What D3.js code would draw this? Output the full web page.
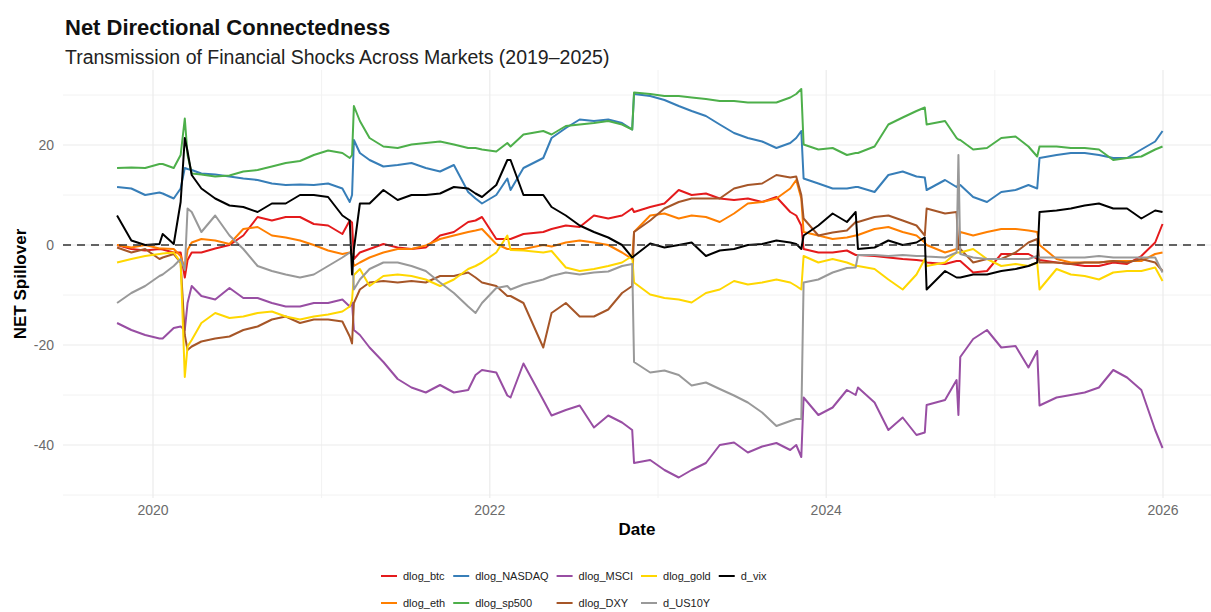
<!DOCTYPE html>
<html>
<head>
<meta charset="utf-8">
<script src="https://cdnjs.cloudflare.com/ajax/libs/d3/7.8.5/d3.min.js"></script>
<style>
  body { margin: 0; background: #fff; }
  svg { font-family: "Liberation Sans", Arial, sans-serif; }
</style>
</head>
<body>
<svg id="chart" width="1211" height="612"></svg>
<script>
// sample dates (monthly, plus extra points around the big jumps), one row per year
var dates = [
  "2019-10-15","2019-11-15","2019-12-15","2020-01-15","2020-01-22","2020-02-15","2020-03-01","2020-03-10","2020-03-16","2020-03-25","2020-04-15","2020-05-15","2020-06-15","2020-07-15","2020-08-15","2020-09-15","2020-10-15","2020-11-15","2020-12-15",
  "2021-01-15","2021-02-15","2021-03-03","2021-03-08","2021-03-12","2021-03-25","2021-04-15","2021-05-15","2021-06-15","2021-07-15","2021-08-15","2021-09-15","2021-10-15","2021-11-15","2021-12-01","2021-12-15",
  "2022-01-15","2022-02-08","2022-02-15","2022-03-15","2022-04-27","2022-05-15","2022-06-15","2022-07-15","2022-08-15","2022-09-15","2022-10-15","2022-11-06","2022-11-10","2022-12-15",
  "2023-01-15","2023-02-15","2023-03-15","2023-04-15","2023-05-15","2023-06-15","2023-07-15","2023-08-15","2023-09-15","2023-10-15","2023-10-28","2023-11-08","2023-11-13","2023-12-15",
  "2024-01-15","2024-02-15","2024-03-05","2024-03-10","2024-04-15","2024-05-15","2024-06-15","2024-07-15","2024-08-02","2024-08-06","2024-09-15","2024-10-10","2024-10-14","2024-10-18","2024-11-15","2024-12-15",
  "2025-01-15","2025-02-15","2025-03-15","2025-04-03","2025-04-08","2025-05-15","2025-06-15","2025-07-15","2025-08-15","2025-09-15","2025-10-15","2025-11-15","2025-12-15","2025-12-31"
];

var dlog_btc = [
  0,-0.8,-1.1,-0.8,-0.9,-1.5,-1.5,-6.5,-3,-1.5,-1.5,-0.7,0,1.9,5.6,4.9,5.6,5.6,4.2,
  3.9,2.2,4.9,4.5,-2.8,-1.5,-0.8,0.2,-0.5,-0.8,-0.5,1.9,2.6,4.6,4.9,5.6,
  1.2,1.2,1.2,2.2,2.6,3.2,3.9,3.6,5.9,5.3,5.9,7.3,6.6,7.6,
  8.3,11,10,10.3,9.3,9,9.3,8.6,9.6,6.6,5.9,3.9,-0.8,-1.5,
  -1.5,-1.1,-2,-2,-2.2,-2.5,-2.8,-3,-3.2,-3.5,-3.8,-3.2,-3.2,-3.2,-5.5,-5.2,
  -1.8,-1.8,-1.8,-2.8,-3,-3.5,-3.8,-4.2,-4.2,-3.5,-3.8,-2.2,0.5,4.2];

var dlog_eth = [
  0,-0.5,0,-0.7,-0.7,-0.8,-2.2,-4.8,-1,0.5,1.2,0.9,0.2,3.2,3.6,1.9,1.5,0.9,0,
  -1.1,-1.8,-1.5,-1.8,-4.2,-3.5,-2.5,-1.5,-0.8,-0.8,-0.1,1.2,1.9,2.6,2.9,3.2,
  0.2,-0.8,-0.8,-0.8,0,-0.3,0.5,0.9,0.5,0,-1.5,-2.8,2.6,5.9,
  6.3,5.3,5.9,5.6,4.6,6.3,8.3,8.6,9.3,11.3,13,9.3,2.6,1.9,
  1.2,1.5,1.9,2,3.2,3.6,2.6,1.9,0.5,0,-1.5,-0.8,-0.8,2.6,1.9,2.6,
  3.2,3.2,2.9,2.6,0,-2.8,-3.5,-3.5,-3.5,-3.2,-3.2,-3.2,-1.8,-1.5];

var dlog_NASDAQ = [
  11.6,11.3,10,10.5,10.3,9.3,11.3,15.4,15.2,15,14.3,14.1,13.7,13.3,13,12.3,12,12.1,12,
  12.3,11.3,8.6,10,21,18.4,17,15.7,16,16.4,15.4,14.7,16,10.6,9.3,8.3,
  10,13.3,11,15.4,17.4,21.4,23.4,25.1,24.8,25.1,24.4,23.1,30.2,29.8,
  29,27.8,26.8,25.8,24.1,22.4,21.4,20.7,19.4,20.4,21.4,22.8,13.3,12.3,
  11.3,11.3,11.6,11.6,10.6,14,14.7,13.7,13.5,11,13,11.6,12,12,9.6,8.6,
  10.6,11,12,11.3,17.4,18,18.4,18.4,18,17.4,17.4,19.1,20.7,22.8];

var dlog_sp500 = [
  15.4,15.5,15.4,16.2,16.2,15.4,18,25.3,18,14.3,14.1,13.7,13.9,14.7,15,15.7,16.4,16.8,18,
  18.9,18.4,17.4,18,27.8,24.8,21.4,19.7,19.4,20.1,20.4,20.7,20.1,19.4,19.4,19.1,
  18.7,20.4,19.7,22.1,22.8,22.1,23.8,24.1,24.4,24.8,24.1,23.1,30.5,30.2,
  29.8,29.8,29.5,29.2,28.8,28.8,28.5,28.5,28.5,29.5,30.2,31.2,20.1,19.1,
  19.4,18,18.4,18.4,19.7,24.1,25.5,26.8,27.5,24.1,24.8,21.4,21.1,21,19.1,19.4,
  21.4,21.7,19.7,17.7,19.7,19.7,19.4,19.4,19.1,17,17.4,17.7,19.1,19.7];

var dlog_MSCI = [
  -15.6,-17,-18,-18.7,-18.7,-16.6,-16.3,-17,-11.6,-8.2,-10.2,-10.9,-8.6,-10.6,-10.6,-11.6,-12.3,-12.3,-11.6,
  -11.6,-10.9,-12.3,-11.5,-17,-18,-20.5,-23.4,-26.8,-28.5,-29.5,-28,-29.5,-29,-26,-25,
  -25.5,-30.1,-30.5,-23.7,-31,-34.1,-33,-32.1,-36.5,-34.1,-35.5,-37,-43.6,-43,
  -45,-46.5,-45,-43.6,-40,-39.5,-41.5,-40.3,-39.6,-41,-40,-42.4,-30.5,-34,
  -32.5,-29,-30,-28.5,-31.5,-37,-34.5,-38,-37.5,-32,-31,-27,-34,-22.4,-18.8,-17,
  -20.5,-20.2,-24.5,-21.2,-32.1,-30.5,-30,-29.5,-28.5,-25,-26.5,-29,-37,-40.6];

var dlog_DXY = [
  -0.5,-1.5,-0.8,-2.8,-2.5,-1.8,-3.5,-18,-21,-20.3,-19.3,-18.7,-18.3,-17,-16.3,-14.9,-14.3,-15.6,-14.9,
  -14.9,-15.3,-18.3,-19.7,-11.6,-8.9,-7.5,-7.2,-7.5,-7.2,-7.5,-6.2,-6.2,-5.5,-6.5,-7.5,
  -8.2,-10.2,-10.2,-11.6,-20.5,-13.6,-11.6,-14.3,-14.3,-12.9,-9.6,-8.2,2.6,4.9,
  7.3,8.6,9.3,9.3,9.3,11.3,12,12.3,14,13.5,13.7,10,5.3,1.9,
  2.5,2.9,4.6,4.6,5.6,5.9,4.9,3.9,1.9,7.3,6.3,6.6,-0.8,-0.8,-3.5,-2.8,
  -2.8,-1.5,0.5,1.2,-3.5,-3.5,-3.8,-3.5,-3.5,-3.2,-3.5,-2.8,-3.5,-5.2];

var dlog_gold = [
  -3.5,-2.8,-2.2,-1.8,-1.7,-1.5,-3.5,-26.4,-20.3,-19,-15.6,-13.6,-14.6,-14.3,-13.6,-13.3,-14.3,-14.9,-14.3,
  -13.9,-13.3,-12.3,-11,-6,-4.8,-8.2,-6.2,-5.9,-6.2,-6.9,-8.2,-6.9,-4.8,-4.2,-3.5,
  -1.5,1.9,-1,-1.1,-1.5,-1.2,-4.5,-5.2,-4.8,-4.2,-3.5,-2.2,-7.5,-9.9,
  -10.6,-10.9,-11.5,-9.6,-8.9,-7.2,-7.9,-7.5,-6.9,-7.5,-8.2,-8.9,-2.2,-3.5,
  -2.8,-3.5,-4.2,-4.2,-4.8,-6.9,-8.9,-5.9,-2.8,-4.2,-3.5,-1.5,-1.5,-1.5,-0.8,-2.8,
  -4.2,-3.8,-4.2,-3.5,-8.9,-4.8,-5.9,-6.2,-6.9,-5.5,-5.2,-5.2,-4.5,-7.2];

var d_US10Y = [
  -11.6,-9.6,-8.2,-6.2,-5.9,-4.2,-2.8,-5,7.3,6.6,2.6,5.9,1.9,-0.8,-4.2,-5.2,-5.9,-6.5,-5.9,
  -4.2,-2.5,-1.5,-2,-8.9,-6.9,-4.8,-3.5,-3.5,-4.2,-5.2,-7.5,-9.6,-12.3,-13.6,-11.6,
  -8.6,-8.2,-8.9,-7.9,-6.9,-6.2,-5.5,-5.9,-5.5,-5.3,-4.2,-3.8,-23.4,-25.5,
  -25.1,-26,-28.1,-27.5,-28.8,-30.1,-31.5,-33.5,-36.2,-35.2,-34.8,-34.8,-7.5,-6.9,
  -5.5,-4.6,-4.5,-2,-2,-2.2,-2,-2.2,-2.2,-2.3,-2.5,-1.5,18,-1.8,-2.5,-2.8,
  -2.8,-2.8,-2.8,-2.2,-2.5,-2.5,-2.5,-2.5,-2.2,-2.5,-2.5,-2.5,-2.5,-5.5];

var d_vix = [
  5.9,0.9,0,0.2,2.2,0.2,8.6,21.4,18.7,14,11.3,9.3,7.9,7.6,6.6,8.3,8.3,10,10,
  9.6,5.9,4.9,-5.9,-0.8,8.3,8.3,11,9,10,10,10.3,11.6,11.3,10.3,9.6,
  12,17,17,10,10,7.6,5.9,3.9,2.6,1.5,0,-2.5,-2.2,0.3,
  -0.5,0,0.5,-2.2,-1.1,-0.8,0,0.2,0.9,0.5,0.2,-0.8,1.9,3.9,
  6.3,4.6,6.6,-0.8,-0.5,0.9,0,0.5,1.5,-8.9,-5.2,-6.5,-6.5,-6.5,-5.9,-5.9,
  -5.2,-4.8,-4.2,-3.5,6.6,6.9,7.3,7.9,8.3,7.3,7.3,5.3,6.9,6.6];

// legend order (ggplot fills the 2-row legend by column)
var seriesNames = ["dlog_btc","dlog_eth","dlog_NASDAQ","dlog_sp500","dlog_MSCI","dlog_DXY","dlog_gold","d_US10Y","d_vix"];
var seriesValues = [dlog_btc, dlog_eth, dlog_NASDAQ, dlog_sp500, dlog_MSCI, dlog_DXY, dlog_gold, d_US10Y, d_vix];
var seriesColors = ["#E41A1C","#FF7F00","#377EB8","#4DAF4A","#984EA3","#A65628","#FFD700","#999999","#000000"];

var yTicks = [20, 0, -20, -40];
var yMinor = [30, 10, -10, -30, -50];
var xTickYears = ["2020","2022","2024","2026"];
var xMinorYears = ["2021","2023","2025"];

var parseTime = d3.timeParse("%Y-%m-%d");
var parseYear = d3.timeParse("%Y");

var svg = d3.select("#chart"),
    panel = {left: 63, right: 1211, top: 70, bottom: 498};

var x = d3.scaleTime()
    .domain([parseYear("2020"), parseYear("2026")])
    .range([153, 1163]);

var y = d3.scaleLinear()
    .domain([0, -40])
    .range([245, 445]);

var series = seriesNames.map(function(name, i) {
    return {
        name: name,
        color: seriesColors[i],
        values: dates.map(function(d, j) { return {date: parseTime(d), value: seriesValues[i][j]}; })
    };
});

svg.append("defs").append("clipPath").attr("id", "clip")
    .append("rect")
    .attr("x", panel.left).attr("y", panel.top)
    .attr("width", panel.right - panel.left).attr("height", panel.bottom - panel.top);

// grid
var grid = svg.append("g");
grid.selectAll(".ymin").data(yMinor).enter().append("line")
    .attr("x1", panel.left).attr("x2", panel.right)
    .attr("y1", function(d) { return y(d); }).attr("y2", function(d) { return y(d); })
    .attr("stroke", "#F2F2F2").attr("stroke-width", 1);
grid.selectAll(".xmin").data(xMinorYears).enter().append("line")
    .attr("y1", panel.top).attr("y2", panel.bottom)
    .attr("x1", function(d) { return x(parseYear(d)); }).attr("x2", function(d) { return x(parseYear(d)); })
    .attr("stroke", "#F2F2F2").attr("stroke-width", 1);
grid.selectAll(".ymaj").data(yTicks).enter().append("line")
    .attr("x1", panel.left).attr("x2", panel.right)
    .attr("y1", function(d) { return y(d); }).attr("y2", function(d) { return y(d); })
    .attr("stroke", "#EBEBEB").attr("stroke-width", 1.2);
grid.selectAll(".xmaj").data(xTickYears).enter().append("line")
    .attr("y1", panel.top).attr("y2", panel.bottom)
    .attr("x1", function(d) { return x(parseYear(d)); }).attr("x2", function(d) { return x(parseYear(d)); })
    .attr("stroke", "#EBEBEB").attr("stroke-width", 1.2);

// lines
var line = d3.line()
    .x(function(d) { return x(d.date); })
    .y(function(d) { return y(d.value); });

svg.append("g").attr("clip-path", "url(#clip)")
    .selectAll("path").data(series).enter().append("path")
    .attr("fill", "none")
    .attr("stroke", function(d) { return d.color; })
    .attr("stroke-width", 2)
    .attr("stroke-linejoin", "round")
    .attr("d", function(d) { return line(d.values); });

// zero reference line
svg.append("line")
    .attr("x1", panel.left).attr("x2", panel.right)
    .attr("y1", y(0)).attr("y2", y(0))
    .attr("stroke", "#333").attr("stroke-width", 1.6)
    .attr("stroke-dasharray", "8,6");

// axis labels (no tick marks, as in theme_minimal)
svg.append("g").selectAll("text").data(yTicks).enter().append("text")
    .attr("x", 54).attr("y", function(d) { return y(d) + 5; })
    .attr("text-anchor", "end").attr("font-size", 14).attr("fill", "#6b6b6b")
    .text(function(d) { return d; });

svg.append("g").selectAll("text").data(xTickYears).enter().append("text")
    .attr("x", function(d) { return x(parseYear(d)); }).attr("y", 515)
    .attr("text-anchor", "middle").attr("font-size", 14).attr("fill", "#6b6b6b")
    .text(function(d) { return d; });

svg.append("text")
    .attr("x", (panel.left + panel.right) / 2).attr("y", 535)
    .attr("text-anchor", "middle").attr("font-size", 17).attr("font-weight", "bold")
    .text("Date");

svg.append("text")
    .attr("transform", "translate(26," + ((panel.top + panel.bottom) / 2) + ") rotate(-90)")
    .attr("text-anchor", "middle").attr("font-size", 17).attr("font-weight", "bold")
    .text("NET Spillover");

// titles
svg.append("text").attr("x", 65).attr("y", 35)
    .attr("font-size", 22).attr("font-weight", "bold").attr("fill", "#111")
    .text("Net Directional Connectedness");
svg.append("text").attr("x", 65).attr("y", 64)
    .attr("font-size", 19.5).attr("fill", "#222")
    .text("Transmission of Financial Shocks Across Markets (2019\u20132025)");

// legend: 2 rows, filled by column
var legend = svg.append("g");
var keyW = 16, keyGap = 6, colGap = 8, rowY = [576, 603];
var items = legend.selectAll("g").data(series).enter().append("g");
items.append("line")
    .attr("x1", 0).attr("x2", keyW).attr("y1", 0).attr("y2", 0)
    .attr("stroke", function(d) { return d.color; }).attr("stroke-width", 2);
items.append("text")
    .attr("x", keyW + keyGap).attr("y", 4)
    .attr("font-size", 11).attr("fill", "#222")
    .text(function(d) { return d.name; });

var widths = [];
items.each(function(d, i) {
    var w = d3.select(this).select("text").node().getComputedTextLength();
    var c = Math.floor(i / 2);
    widths[c] = Math.max(widths[c] || 0, w);
});
var colX = [], total = 0;
widths.forEach(function(w, c) {
    colX[c] = total;
    total += keyW + keyGap + w + colGap;
});
var legendLeft = 381;
items.attr("transform", function(d, i) {
    return "translate(" + (legendLeft + colX[Math.floor(i / 2)]) + "," + rowY[i % 2] + ")";
});
</script>
</body>
</html>
